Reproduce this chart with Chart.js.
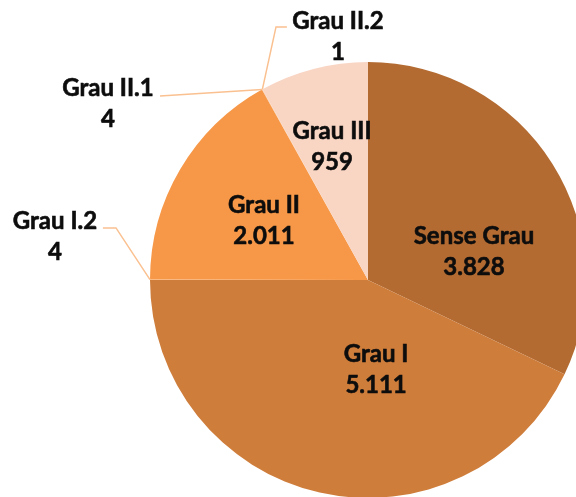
<!DOCTYPE html>
<html>
<head>
<meta charset="utf-8">
<script src="https://cdn.jsdelivr.net/npm/chart.js@4/dist/chart.umd.min.js"></script>
<style>
  html, body { margin: 0; padding: 0; background: #ffffff; overflow: hidden; }
  #grafic { display: block; }
</style>
</head>
<body>
<canvas id="grafic" width="600" height="520"></canvas>
<script>
const categories = ['Sense Grau', 'Grau I', 'Grau I.2', 'Grau II', 'Grau II.1', 'Grau II.2', 'Grau III'];
const values = [3828, 5111, 4, 2011, 4, 1, 959];
const colors = ['#B36B32', '#CF7D3B', '#FAC090', '#F79848', '#FAC090', '#FAC090', '#F9D5C4'];
const leaderColor = '#FAC090';

// posicio de cada etiqueta (fraccio del radi respecte al centre del pastis)
let posEtiquetes = [
    { x: 0.486, y: -0.131 },
    { x: 0.037, y: 0.408 },
    { x: -1.436, y: -0.204, linia: [{ x: -1.216, y: -0.239 }, { x: -1.156, y: -0.239 }] },
    { x: -0.477, y: -0.275 },
    { x: -1.193, y: -0.812, linia: [{ x: -0.954, y: -0.844 }] },
    { x: -0.138, y: -1.117, linia: [{ x: -0.372, y: -1.161 }, { x: -0.422, y: -1.161 }] },
    { x: -0.165, y: -0.615 }
];

function formatNum(n) {
    return String(n).replace(/\B(?=(\d{3})+(?!\d))/g, '.');
}

const etiquetesPlugin = {
    id: 'etiquetes',
    afterDatasetsDraw(chart) {
        const ctx = chart.ctx;
        const meta = chart.getDatasetMeta(0);
        ctx.save();
        meta.data.forEach((arc, i) => {
            const r = arc.outerRadius;
            const cx = arc.x, cy = arc.y;
            const pos = posEtiquetes[i];
            if (pos.linia) {
                const mig = (arc.startAngle + arc.endAngle) / 2;
                ctx.beginPath();
                ctx.strokeStyle = leaderColor;
                ctx.lineWidth = 1.5;
                ctx.moveTo(cx + pos.linia[0].x * r, cy + pos.linia[0].y * r);
                for (let k = 1; k < pos.linia.length; k++) {
                    ctx.lineTo(cx + pos.linia[k].x * r, cy + pos.linia[k].y * r);
                }
                ctx.lineTo(cx + Math.cos(mig) * r, cy + Math.sin(mig) * r);
                ctx.stroke();
            }
            const tx = cx + pos.x * r;
            const ty = cy + pos.y * r;
            ctx.fillStyle = '#0D0D0D';
            ctx.strokeStyle = '#0D0D0D';
            ctx.lineWidth = 0.6;
            ctx.font = 'bold 24px Lato';
            ctx.textAlign = 'center';
            ctx.textBaseline = 'alphabetic';
            ctx.fillText(categories[i], tx, ty - 15.5 + 8.5);
            ctx.strokeText(categories[i], tx, ty - 15.5 + 8.5);
            ctx.fillText(formatNum(values[i]), tx, ty + 15.5 + 8.5);
            ctx.strokeText(formatNum(values[i]), tx, ty + 15.5 + 8.5);
        });
        ctx.restore();
    }
};

let grafic = new Chart(document.getElementById('grafic').getContext('2d'), {
    type: 'pie',
    data: {
        labels: categories,
        datasets: [{
            data: values,
            backgroundColor: colors,
            borderWidth: 0,
            clip: false
        }]
    },
    options: {
        responsive: false,
        animation: false,
        layout: { padding: { left: 150, top: 62, right: 14, bottom: 22 } },
        plugins: {
            legend: { display: false },
            tooltip: { enabled: false }
        }
    },
    plugins: [etiquetesPlugin]
});
</script>
</body>
</html>
